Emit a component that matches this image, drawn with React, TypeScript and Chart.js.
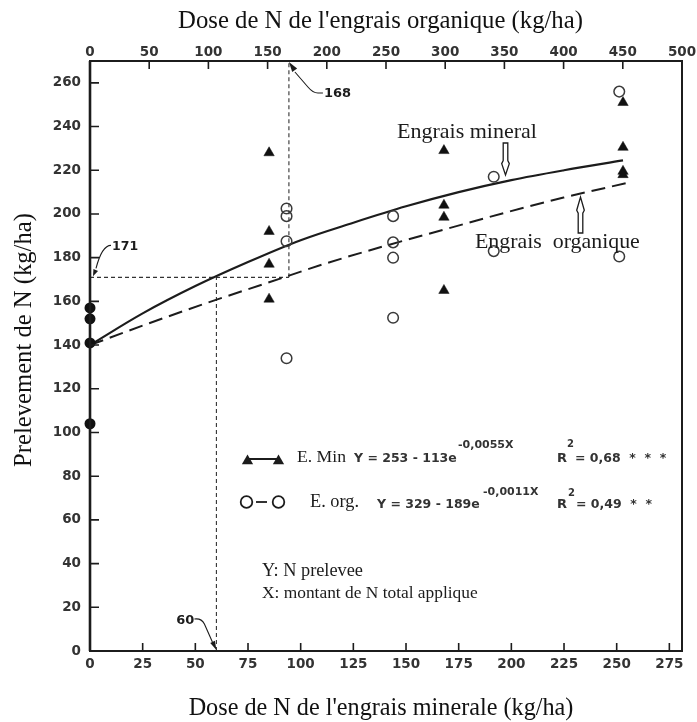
import React, { useEffect, useRef } from 'react';
import { Chart, registerables } from 'chart.js';

Chart.register(...registerables);

// ---- axis ticks ----
const mineralTickValues = [0, 25, 50, 75, 100, 125, 150, 175, 200, 225, 250, 275];
const organicTickValues = [0, 50, 100, 150, 200, 250, 300, 350, 400, 450, 500];
const yTickValues = [0, 20, 40, 60, 80, 100, 120, 140, 160, 180, 200, 220, 240, 260];
const mineralMax = 281;
const organicMax = 500;
const yMax = 270;

// ---- observations ----
const controlX = [0, 0, 0, 0];
const controlY = [157, 152, 141, 104];

const mineralX = [85, 85, 85, 85, 168, 168, 168, 168, 253, 253, 253, 253];
const mineralY = [228, 192, 177, 161, 229, 204, 198.5, 165, 251, 230.5, 219.5, 218];

const organicX = [166, 166, 166, 166, 256, 256, 256, 256, 341, 341, 447, 447];
const organicY = [202.5, 199, 187.5, 134, 199, 187, 180, 152.5, 217, 183, 256, 180.5];

// ---- fitted curves ----
const mineralCurveX = [0, 25, 50, 75, 100, 125, 150, 175, 200, 225, 253];
const mineralCurveY = [140, 154.5, 167, 178, 188, 196, 203.5, 210, 215.5, 220, 224.5];

const organicCurveX = [0, 50, 100, 150, 200, 250, 300, 350, 400, 456];
const organicCurveY = [140, 150, 159.5, 168.5, 177.5, 185.5, 193, 200.5, 207.5, 214.5];

// ---- reference lines ----
const refY = 171;
const refMineralX = 60;
const refOrganicX = 168;

const INK = '#1c1c1c';
const SERIF = 'Liberation Serif';
const SANS = 'DejaVu Sans';

function pts(xs: number[], ys: number[]) {
  return xs.map((x, i) => ({ x, y: ys[i] }));
}

function fitSize(ctx: CanvasRenderingContext2D, text: string, family: string, weight: string, target: number) {
  ctx.font = `${weight} 20px "${family}"`;
  const w = ctx.measureText(text).width;
  return (20 * target) / w;
}

function fitText(ctx: CanvasRenderingContext2D, text: string, family: string, weight: string, target: number, x: number, y: number, align: CanvasTextAlign = 'left') {
  const size = fitSize(ctx, text, family, weight, target);
  ctx.font = `${weight} ${size}px "${family}"`;
  ctx.textAlign = align;
  ctx.textBaseline = 'middle';
  ctx.fillText(text, x, y);
}

function arrowHead(ctx: CanvasRenderingContext2D, fx: number, fy: number, tx: number, ty: number, len = 8, wid = 3) {
  const a = Math.atan2(ty - fy, tx - fx);
  ctx.beginPath();
  ctx.moveTo(tx, ty);
  ctx.lineTo(tx - len * Math.cos(a) + wid * Math.sin(a), ty - len * Math.sin(a) - wid * Math.cos(a));
  ctx.lineTo(tx - len * Math.cos(a) - wid * Math.sin(a), ty - len * Math.sin(a) + wid * Math.cos(a));
  ctx.closePath();
  ctx.fill();
}

function tri(ctx: CanvasRenderingContext2D, cx: number, cy: number, r: number) {
  ctx.beginPath();
  ctx.moveTo(cx, cy - r);
  ctx.lineTo(cx + r * 0.866, cy + r / 2);
  ctx.lineTo(cx - r * 0.866, cy + r / 2);
  ctx.closePath();
  ctx.fill();
}

// hollow vertical arrow from tail to tip
function hollowArrow(ctx: CanvasRenderingContext2D, x: number, tail: number, tip: number) {
  const dir = tip > tail ? 1 : -1;
  const L = Math.abs(tip - tail);
  const s = 2.3;
  const h = 3.8;
  const headLen = L * 0.45;
  const y = (d: number) => tail + dir * d;
  ctx.beginPath();
  ctx.moveTo(x - s, y(0));
  ctx.lineTo(x - s, y(L - headLen));
  ctx.lineTo(x - h, y(L - headLen + 3));
  ctx.lineTo(x, y(L));
  ctx.lineTo(x + h, y(L - headLen + 3));
  ctx.lineTo(x + s, y(L - headLen));
  ctx.lineTo(x + s, y(0));
  ctx.closePath();
  ctx.fillStyle = '#fff';
  ctx.fill();
  ctx.lineWidth = 1.3;
  ctx.strokeStyle = INK;
  ctx.stroke();
}

function runs(ctx: CanvasRenderingContext2D, x: number, y: number, parts: { t: string; size: number; dy?: number; gap?: number }[]) {
  let cx = x;
  ctx.textAlign = 'left';
  ctx.textBaseline = 'middle';
  for (const p of parts) {
    ctx.font = `bold ${p.size}px "${SANS}"`;
    ctx.fillText(p.t, cx, y + (p.dy || 0));
    cx += ctx.measureText(p.t).width + (p.gap || 0);
  }
}

const overlay = {
  id: 'overlay',
  afterDraw(chart: any) {
    const ctx: CanvasRenderingContext2D = chart.ctx;
    const { left, right, top, bottom } = chart.chartArea;
    const xs = chart.scales.x;
    const x2 = chart.scales.x2;
    const ys = chart.scales.y;
    ctx.save();

    // frame
    ctx.strokeStyle = INK;
    ctx.lineWidth = 2;
    ctx.strokeRect(left, top, right - left, bottom - top);
    ctx.lineWidth = 2.6;
    ctx.beginPath();
    ctx.moveTo(left, top);
    ctx.lineTo(left, bottom);
    ctx.stroke();

    // inward tick marks
    ctx.lineWidth = 1.6;
    ctx.beginPath();
    yTickValues.forEach((v) => {
      if (v === 0) return;
      const p = ys.getPixelForValue(v);
      ctx.moveTo(left, p);
      ctx.lineTo(left + 9, p);
    });
    mineralTickValues.forEach((v) => {
      if (v === 0) return;
      const p = xs.getPixelForValue(v);
      ctx.moveTo(p, bottom);
      ctx.lineTo(p, bottom - 8);
    });
    organicTickValues.forEach((v) => {
      if (v === 0 || v === organicMax) return;
      const p = x2.getPixelForValue(v);
      ctx.moveTo(p, top);
      ctx.lineTo(p, top + 8);
    });
    ctx.stroke();

    ctx.fillStyle = INK;
    ctx.strokeStyle = INK;

    // 171 annotation
    {
      const tx = xs.getPixelForValue(0) + 2;
      const ty = ys.getPixelForValue(refY) - 1;
      ctx.lineWidth = 1.1;
      ctx.beginPath();
      ctx.moveTo(tx + 19, ty - 31);
      ctx.quadraticCurveTo(tx + 10, ty - 31, tx + 4, ty - 8);
      ctx.stroke();
      arrowHead(ctx, tx + 7, ty - 14, tx + 1, ty, 7, 2.5);
      ctx.font = `bold 12.5px "${SANS}"`;
      ctx.textAlign = 'left';
      ctx.textBaseline = 'middle';
      ctx.fillText('171', tx + 20, ty - 30);
    }
    // 168 annotation
    {
      const tx = x2.getPixelForValue(refOrganicX);
      const ty = ys.getPixelForValue(yMax) + 1;
      ctx.lineWidth = 1.1;
      ctx.beginPath();
      ctx.moveTo(tx + 6, ty + 10);
      ctx.lineTo(tx + 19, ty + 25);
      ctx.quadraticCurveTo(tx + 24, ty + 31, tx + 29, ty + 31);
      ctx.lineTo(tx + 34, ty + 31);
      ctx.stroke();
      arrowHead(ctx, tx + 12, ty + 17, tx, ty, 10, 3);
      ctx.font = `bold 13px "${SANS}"`;
      ctx.textAlign = 'left';
      ctx.textBaseline = 'middle';
      ctx.fillText('168', tx + 35, ty + 32);
    }
    // 60 annotation
    {
      const tx = xs.getPixelForValue(refMineralX);
      const ty = ys.getPixelForValue(0) - 1;
      ctx.lineWidth = 1.1;
      ctx.beginPath();
      ctx.moveTo(tx - 22, ty - 31);
      ctx.quadraticCurveTo(tx - 15, ty - 32, tx - 12, ty - 26);
      ctx.lineTo(tx - 4, ty - 8);
      ctx.stroke();
      arrowHead(ctx, tx - 8, ty - 17, tx, ty, 9, 2.6);
      ctx.font = `bold 13px "${SANS}"`;
      ctx.textAlign = 'right';
      ctx.textBaseline = 'middle';
      ctx.fillText('60', tx - 22, ty - 29);
    }

    // legend
    ctx.fillStyle = INK;
    ctx.strokeStyle = INK;
    ctx.lineWidth = 2;
    ctx.beginPath();
    ctx.moveTo(247, 459);
    ctx.lineTo(279, 459);
    ctx.stroke();
    tri(ctx, 247.5, 461, 6.5);
    tri(ctx, 278.5, 461, 6.5);

    ctx.lineWidth = 1.8;
    ctx.beginPath();
    ctx.arc(246.5, 502, 5.8, 0, Math.PI * 2);
    ctx.stroke();
    ctx.beginPath();
    ctx.arc(278.5, 502, 5.8, 0, Math.PI * 2);
    ctx.stroke();
    ctx.beginPath();
    ctx.moveTo(256, 502);
    ctx.lineTo(267, 502);
    ctx.stroke();

    ctx.fillStyle = INK;
    fitText(ctx, 'E. Min', SERIF, 'normal', 49, 297, 457);
    fitText(ctx, 'E. org.', SERIF, 'normal', 49, 310, 502);

    ctx.fillStyle = '#333';
    runs(ctx, 354, 459, [{ t: 'Y = 253 - 113e', size: 12.5 }]);
    runs(ctx, 458, 445, [{ t: '-0,0055X', size: 11 }]);
    runs(ctx, 557, 459, [
      { t: 'R', size: 13, gap: 0 },
      { t: '2', size: 10, dy: -15, gap: 1 },
      { t: '= 0,68  *  *  *', size: 12.5 },
    ]);
    runs(ctx, 377, 505, [{ t: 'Y = 329 - 189e', size: 12.5 }]);
    runs(ctx, 483, 492, [{ t: '-0,0011X', size: 11 }]);
    runs(ctx, 557, 505, [
      { t: 'R', size: 13, gap: 1 },
      { t: '2', size: 10, dy: -12, gap: 1 },
      { t: '= 0,49  *  *', size: 12.5 },
    ]);

    ctx.fillStyle = INK;
    fitText(ctx, 'Y: N prelevee', SERIF, 'normal', 101, 262, 571);
    fitText(ctx, 'X: montant de N total applique', SERIF, 'normal', 216, 262, 593);

    // curve labels and arrows
    fitText(ctx, 'Engrais mineral', SERIF, 'normal', 140, 397, 132);
    fitText(ctx, 'Engrais  organique', SERIF, 'normal', 165, 475, 242);
    hollowArrow(ctx, 505.5, 143, 175);
    hollowArrow(ctx, 580.5, 233, 197);

    // axis titles
    ctx.fillStyle = '#111';
    fitText(ctx, "Dose de N de l'engrais organique (kg/ha)", SERIF, 'normal', 405, 380.5, 21, 'center');
    fitText(ctx, "Dose de N de l'engrais minerale (kg/ha)", SERIF, 'normal', 385, 381, 709, 'center');
    ctx.save();
    ctx.translate(25, 340);
    ctx.rotate(-Math.PI / 2);
    fitText(ctx, 'Prelevement de N (kg/ha)', SERIF, 'normal', 254, 0, 0, 'center');
    ctx.restore();

    ctx.restore();
  },
};

export default function App() {
  const ref = useRef<HTMLCanvasElement | null>(null);

  useEffect(() => {
    if (!ref.current) return;
    const tickFont = { family: SANS, size: 13.5, weight: 'bold' as const };
    const dashRef = { borderColor: '#333', borderWidth: 1.1, borderDash: [4, 3], pointRadius: 0, showLine: true, fill: false, clip: false as any, order: 5 };
    const chart = new Chart(ref.current, {
      type: 'scatter',
      data: {
        datasets: [
          {
            label: 'ref171',
            xAxisID: 'x2',
            data: [{ x: 0, y: refY }, { x: refOrganicX, y: refY }],
            ...dashRef,
          },
          {
            label: 'ref168',
            xAxisID: 'x2',
            data: [{ x: refOrganicX, y: refY }, { x: refOrganicX, y: yMax }],
            ...dashRef,
          },
          {
            label: 'ref60',
            xAxisID: 'x',
            data: [{ x: refMineralX, y: 0 }, { x: refMineralX, y: refY }],
            ...dashRef,
          },
          {
            label: 'Engrais mineral',
            xAxisID: 'x',
            data: pts(mineralCurveX, mineralCurveY),
            showLine: true,
            borderColor: INK,
            borderWidth: 2.2,
            pointRadius: 0,
            cubicInterpolationMode: 'monotone',
            order: 4,
          },
          {
            label: 'Engrais organique',
            xAxisID: 'x2',
            data: pts(organicCurveX, organicCurveY),
            showLine: true,
            borderColor: INK,
            borderWidth: 2,
            borderDash: [14, 7],
            pointRadius: 0,
            cubicInterpolationMode: 'monotone',
            order: 4,
          },
          {
            label: 'E. Min',
            xAxisID: 'x',
            data: pts(mineralX, mineralY),
            pointStyle: 'triangle',
            pointRadius: 6,
            backgroundColor: '#111',
            borderColor: '#111',
            borderWidth: 0.5,
            clip: false as any,
            order: 1,
          },
          {
            label: 'E. org.',
            xAxisID: 'x2',
            data: pts(organicX, organicY),
            pointStyle: 'circle',
            pointRadius: 5.3,
            backgroundColor: 'rgba(255,255,255,0)',
            borderColor: '#3a3a3a',
            borderWidth: 1.5,
            clip: false as any,
            order: 1,
          },
          {
            label: 'Témoin',
            xAxisID: 'x',
            data: pts(controlX, controlY),
            pointStyle: 'circle',
            pointRadius: 5.5,
            backgroundColor: '#111',
            borderColor: '#111',
            borderWidth: 0,
            clip: false as any,
            order: 1,
          },
        ] as any,
      },
      options: {
        responsive: false,
        animation: false,
        events: [],
        layout: { padding: { left: 0, right: 15, top: 0, bottom: 0 } },
        plugins: { legend: { display: false }, tooltip: { enabled: false } },
        scales: {
          x: {
            type: 'linear',
            position: 'bottom',
            min: 0,
            max: mineralMax,
            grid: { display: false, drawTicks: false },
            border: { display: false },
            ticks: { font: tickFont, color: '#333', padding: 5, maxRotation: 0, autoSkip: false },
            afterBuildTicks: (s: any) => {
              s.ticks = mineralTickValues.map((v) => ({ value: v }));
            },
            afterFit: (s: any) => {
              s.height = 71;
            },
          },
          x2: {
            type: 'linear',
            position: 'top',
            min: 0,
            max: organicMax,
            grid: { display: false, drawTicks: false },
            border: { display: false },
            ticks: { font: tickFont, color: '#333', padding: 0, maxRotation: 0, autoSkip: false },
            afterBuildTicks: (s: any) => {
              s.ticks = organicTickValues.map((v) => ({ value: v }));
            },
            afterFit: (s: any) => {
              s.height = 61;
            },
          },
          y: {
            type: 'linear',
            position: 'left',
            min: 0,
            max: yMax,
            grid: { display: false, drawTicks: false },
            border: { display: false },
            ticks: { font: tickFont, color: '#333', padding: 9, autoSkip: false },
            afterBuildTicks: (s: any) => {
              s.ticks = yTickValues.map((v) => ({ value: v }));
            },
            afterFit: (s: any) => {
              s.width = 90;
            },
          },
        },
      } as any,
      plugins: [overlay as any],
    });
    return () => chart.destroy();
  }, []);

  return (
    <div style={{ position: 'fixed', left: 0, top: 0, width: 697, height: 722, background: '#fff' }}>
      <canvas ref={ref} width={697} height={722} style={{ display: 'block', width: 697, height: 722 }} />
    </div>
  );
}
